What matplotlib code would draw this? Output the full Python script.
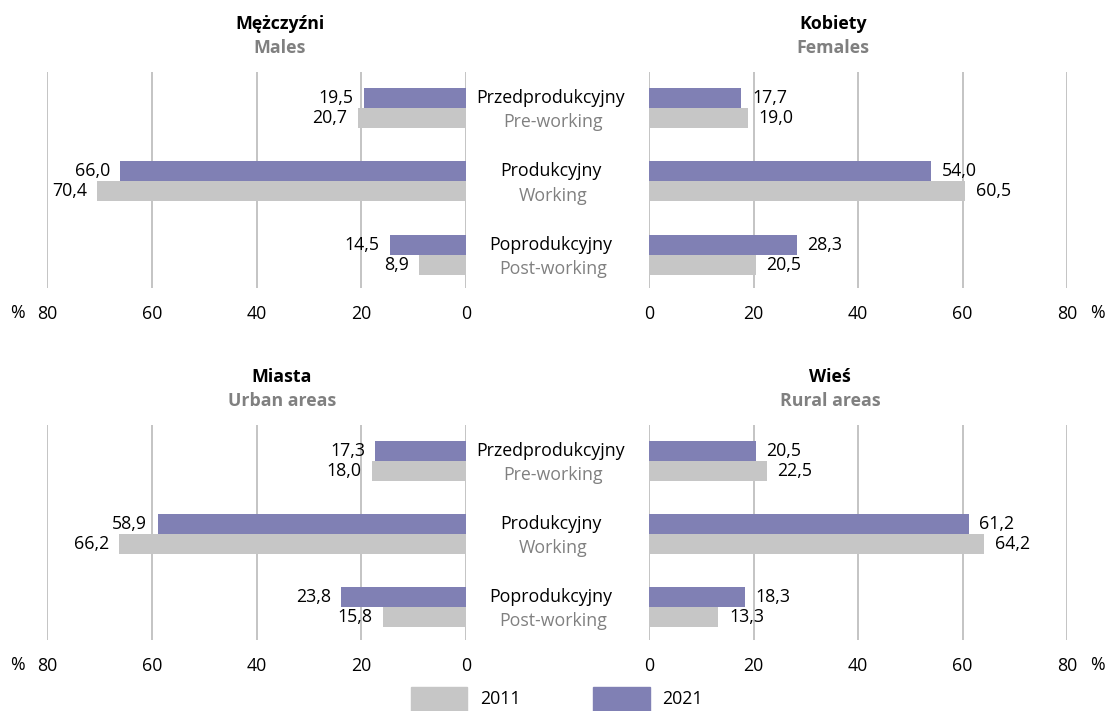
import matplotlib
matplotlib.use("Agg")
import matplotlib.pyplot as plt
from matplotlib.transforms import blended_transform_factory
from matplotlib.patches import Rectangle

plt.rcParams['font.family'] = ['Open Sans', 'DejaVu Sans']

categories_pl = ["Przedprodukcyjny", "Produkcyjny", "Poprodukcyjny"]
categories_en = ["Pre-working", "Working", "Post-working"]
years = ["2011", "2021"]

males_2011 = [20.7, 70.4, 8.9]
males_2021 = [19.5, 66.0, 14.5]
females_2011 = [19.0, 60.5, 20.5]
females_2021 = [17.7, 54.0, 28.3]
urban_2011 = [18.0, 66.2, 15.8]
urban_2021 = [17.3, 58.9, 23.8]
rural_2011 = [22.5, 64.2, 13.3]
rural_2021 = [20.5, 61.2, 18.3]

ticks = [0, 20, 40, 60, 80]

C2011 = "#c6c6c6"
C2021 = "#8080b4"
GRID = "#b4b4b4"
SUB = "#808080"

W, H = 1109, 711
fig = plt.figure(figsize=(W / 100, H / 100), dpi=100)

def fx(px):
    return px / W

def fy(py):
    return 1 - py / H

FS = 12.8
OFF = 2.0

def make_ax(left_px, right_px, top_px, bot_px, v2011, v2021, mirror):
    ax = fig.add_axes([fx(left_px), fy(bot_px), fx(right_px - left_px), (bot_px - top_px) / H])
    pos = list(range(len(v2011)))
    h = 0.272
    y21 = [p - h / 2 for p in pos]
    y11 = [p + h / 2 for p in pos]
    ax.barh(y21, v2021, height=h, color=C2021, zorder=3)
    ax.barh(y11, v2011, height=h, color=C2011, zorder=3)
    ax.set_xlim(80, 0) if mirror else ax.set_xlim(0, 80)
    ax.set_ylim(2.45, -0.49)
    ax.set_xticks(ticks)
    ax.set_xticklabels([str(t) for t in ticks], fontsize=FS)
    ax.tick_params(axis='x', length=0, pad=12)
    ax.set_yticks([])
    for s in ax.spines.values():
        s.set_visible(False)
    for t in ticks:
        ax.axvline(t, color=GRID, lw=1.1, zorder=1)
    ha = 'right' if mirror else 'left'
    for yy, v in list(zip(y21, v2021)) + list(zip(y11, v2011)):
        lbl = f"{v:.1f}".replace(".", ",")
        ax.text(v + OFF, yy, lbl, ha=ha, va='center', fontsize=FS, zorder=4)
    return ax, y21, y11

panels = [
    (47, 466, 72, 288, males_2011, males_2021, True, "Mężczyźni", "Males", 280),
    (649, 1067, 72, 288, females_2011, females_2021, False, "Kobiety", "Females", 833),
    (47, 466, 425, 640, urban_2011, urban_2021, True, "Miasta", "Urban areas", 282),
    (649, 1067, 425, 640, rural_2011, rural_2021, False, "Wieś", "Rural areas", 830),
]

for (l, r, t, b, v11, v21, mirror, title, sub, tx) in panels:
    ax, y21, y11 = make_ax(l, r, t, b, v11, v21, mirror)
    fig.text(fx(tx), fy(t - 48), title, ha='center', va='center', fontsize=FS, fontweight='bold', color='black')
    fig.text(fx(tx), fy(t - 24), sub, ha='center', va='center', fontsize=FS, fontweight='bold', color=SUB)
    if mirror:
        tr = blended_transform_factory(fig.transFigure, ax.transData)
        for i in range(len(categories_pl)):
            ax.text(fx(551), y21[i], categories_pl[i], transform=tr, ha='center', va='center', fontsize=FS, color='black')
            ax.text(fx(553), y11[i] + 0.06, categories_en[i], transform=tr, ha='center', va='center', fontsize=FS, color=SUB)
        fig.text(fx(17), fy(b + 25), "%", ha='center', va='center', fontsize=FS)
    else:
        fig.text(fx(1097), fy(b + 25), "%", ha='center', va='center', fontsize=FS)

# legend
leg_ax = fig.add_axes([0, 0, 1, 1], facecolor='none')
leg_ax.set_xlim(0, W)
leg_ax.set_ylim(H, 0)
leg_ax.axis('off')
leg_ax.add_patch(Rectangle((411, 687), 56, 24, color=C2011))
leg_ax.text(480, 699, years[0], ha='left', va='center', fontsize=FS)
leg_ax.add_patch(Rectangle((593, 687), 57, 24, color=C2021))
leg_ax.text(662, 699, years[1], ha='left', va='center', fontsize=FS)

fig.savefig("out.png", dpi=100)
